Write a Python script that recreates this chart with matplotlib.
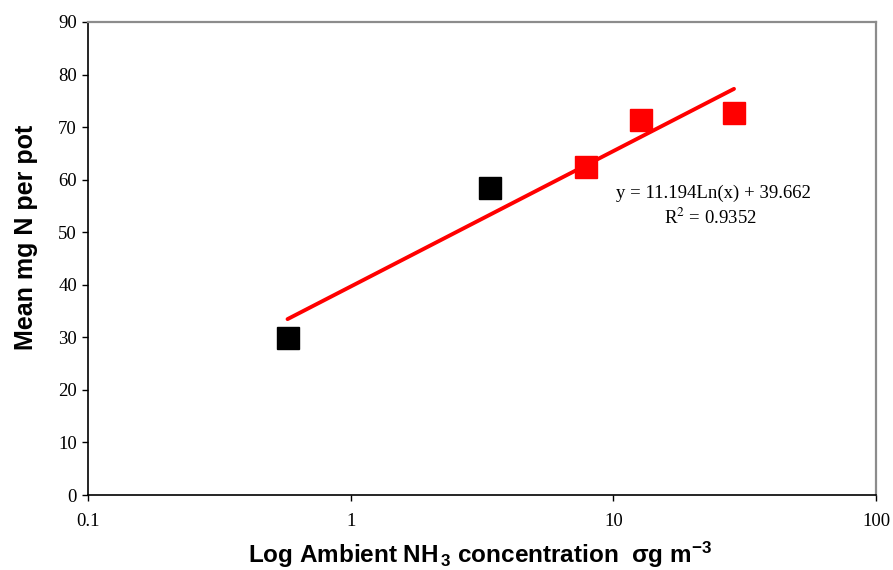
import numpy as np
import matplotlib
matplotlib.use("Agg")
import matplotlib.pyplot as plt

# Data
black_x = [0.575, 3.38]
black_y = [29.9, 58.5]
red_x = [7.9, 12.7, 28.8]
red_y = [62.4, 71.4, 72.7]
fit_slope = 11.194
fit_intercept = 39.662
eq_text = "y = 11.194Ln(x) + 39.662"
r2_text = "R$^2$ = 0.9352"
y_ticks = [0, 10, 20, 30, 40, 50, 60, 70, 80, 90]
x_ticks = [0.1, 1, 10, 100]
x_ticklabels = ["0.1", "1", "10", "100"]

plt.rcParams['mathtext.fontset'] = 'custom'
plt.rcParams['mathtext.rm'] = 'Liberation Sans:bold'
plt.rcParams['mathtext.bf'] = 'Liberation Sans:bold'
plt.rcParams['mathtext.it'] = 'Liberation Sans:bold'

fig = plt.figure(figsize=(8.93, 5.70), dpi=100)
ax = fig.add_axes([88/893, 75/570, (876-88)/893, (495-22)/570])

ax.set_xscale('log')
ax.set_xlim(0.1, 100)
ax.set_ylim(0, 90)

all_x = np.array(black_x + red_x)
xx = np.logspace(np.log10(all_x.min()), np.log10(all_x.max()), 200)
ax.plot(xx, fit_slope * np.log(xx) + fit_intercept, color='#ff0000', lw=2.8,
        solid_capstyle='round', zorder=2)

ax.plot(black_x, black_y, 's', color='black', ms=16.5, mec='black', zorder=3)
ax.plot(red_x, red_y, 's', color='#ff0000', ms=16.5, mec='#ff0000', zorder=3)

ax.set_xticks(x_ticks)
ax.set_xticklabels(x_ticklabels)
ax.xaxis.set_minor_locator(matplotlib.ticker.NullLocator())
ax.set_yticks(y_ticks)

for lab in ax.get_xticklabels() + ax.get_yticklabels():
    lab.set_fontfamily('Liberation Serif')
    lab.set_fontsize(13.5)

ax.tick_params(axis='both', direction='out', length=4, width=1, colors='black')
ax.tick_params(axis='x', pad=9)
ax.tick_params(axis='y', pad=4)

for s in ['left', 'bottom']:
    ax.spines[s].set_color('black')
    ax.spines[s].set_linewidth(1.2)
for s in ['top', 'right']:
    ax.spines[s].set_color('#8c8c8c')
    ax.spines[s].set_linewidth(1.6)

fig.text(26/893, 1 - 237/570, "Mean mg N per pot", rotation=90,
         ha='center', va='center', fontfamily='Liberation Sans', fontweight='bold', fontsize=18)
fig.text(480/893, 0.5/570, r"Log Ambient NH$_{\,3}$ concentration  $\sigma$g m$^{-3}$",
         ha='center', va='bottom', fontfamily='Liberation Sans', fontweight='bold', fontsize=17.5)

fig.text(713/893, 1 - 193/570, eq_text, ha='center', va='center',
         fontfamily='Liberation Serif', fontsize=13.5)
fig.text(710/893, 1 - 218/570, r2_text, ha='center', va='center',
         fontfamily='Liberation Serif', fontsize=13.5, math_fontfamily='stix')

fig.savefig("out.png", dpi=100)
